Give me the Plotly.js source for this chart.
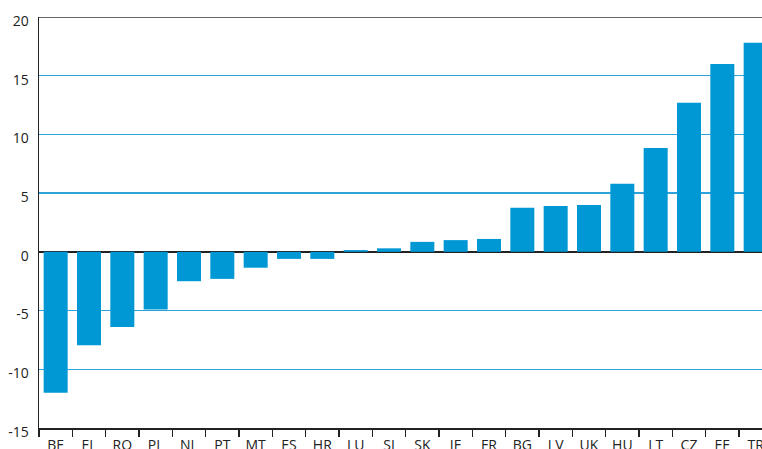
<!DOCTYPE html>
<html>
<head>
<meta charset="utf-8">
<script src="https://cdn.plot.ly/plotly-3.0.1.min.js"></script>
<style>html,body{margin:0;padding:0;background:#fff;}#chart{width:762px;height:449px;}</style>
</head>
<body>
<div id="chart"></div>
<script>
const countries = ["BE","EL","RO","PL","NL","PT","MT","ES","HR","LU","SI","SK","IE","FR","BG","LV","UK","HU","LT","CZ","EE","TR"];
const values = [-12.0,-7.95,-6.4,-4.9,-2.5,-2.3,-1.35,-0.6,-0.6,0.15,0.3,0.85,1.0,1.1,3.75,3.9,4.0,5.8,8.85,12.7,16.0,17.8];
const yTicks = [-15,-10,-5,0,5,10,15,20];

const trace = {
  type: "bar",
  x: countries,
  y: values,
  marker: {color: "#0097d5"},
  width: 0.72,
  hoverinfo: "x+y"
};

const layout = {
  width: 762,
  height: 449,
  margin: {l: 39, r: 0, t: 17, b: 21},
  paper_bgcolor: "#ffffff",
  plot_bgcolor: "#ffffff",
  showlegend: false,
  font: {family: "Open Sans, sans-serif", size: 14, color: "#222"},
  xaxis: {
    type: "category",
    range: [-0.5, 21.19],
    tickson: "boundaries",
    ticks: "outside",
    ticklen: 7,
    tickwidth: 1.2,
    tickcolor: "#222",
    showline: true,
    linecolor: "#222",
    linewidth: 1.5,
    showgrid: false,
    zeroline: false,
    ticklabelstandoff: 4,
    tickfont: {size: 14, color: "#222"},
    fixedrange: true
  },
  yaxis: {
    range: [-15, 20],
    tickvals: yTicks,
    ticktext: yTicks.map(String),
    showline: true,
    linecolor: "#222",
    linewidth: 1.5,
    ticks: "",
    showgrid: true,
    gridcolor: "#2ea3da",
    gridwidth: 1.3,
    zeroline: true,
    zerolinecolor: "#222",
    zerolinewidth: 1.5,
    ticklabelstandoff: 6,
    ticklabelshift: 4,
    tickfont: {size: 14, color: "#222"},
    fixedrange: true
  },
  shapes: [{
    type: "line", xref: "paper", yref: "y",
    x0: 0, x1: 1, y0: 20, y1: 20,
    line: {color: "#666", width: 2}
  }]
};

Plotly.newPlot("chart", [trace], layout, {displayModeBar: false, staticPlot: true});
</script>
</body>
</html>
